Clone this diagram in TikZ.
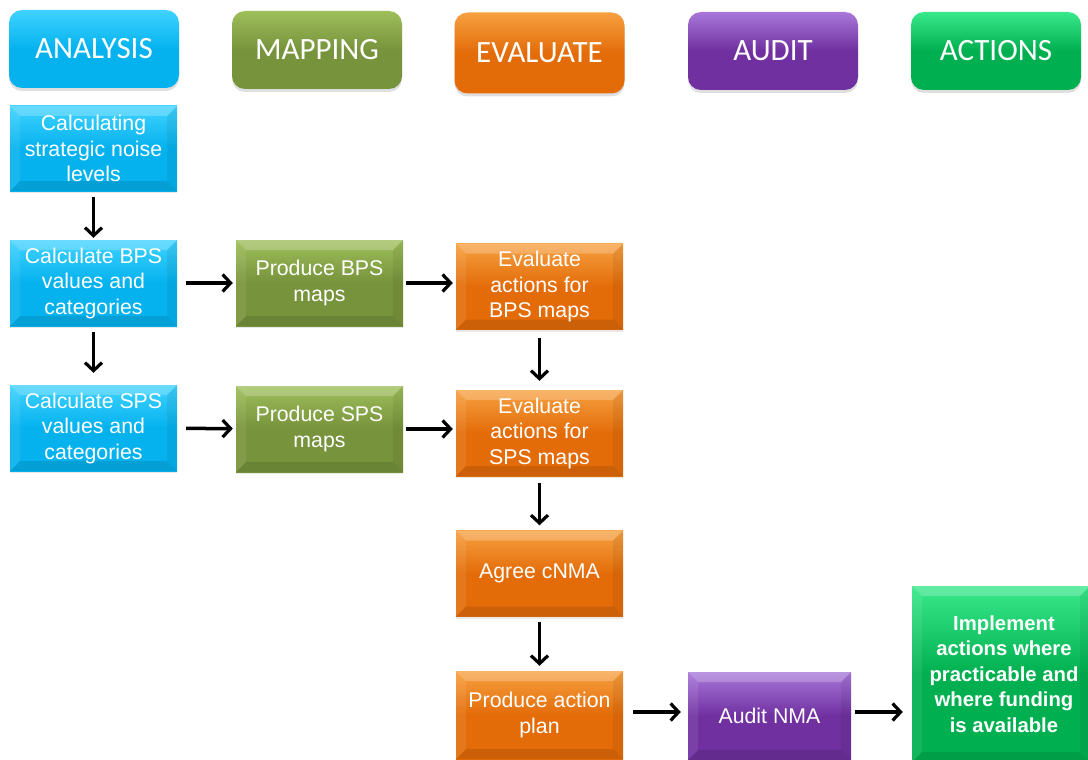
\documentclass[tikz,border=0pt]{standalone}
\usepackage{fontspec}
\setmainfont{Liberation Sans}
\newfontfamily\hfont{Carlito}
\usetikzlibrary{arrows.meta,shadows,calc}
\definecolor{cyanC}{HTML}{05B2EE}
\definecolor{cyanT}{HTML}{3FD2FF}
\definecolor{oliveC}{HTML}{77933C}
\definecolor{oliveT}{HTML}{9EBE5A}
\definecolor{orangeC}{HTML}{E36C09}
\definecolor{orangeT}{HTML}{F7A040}
\definecolor{purpleC}{HTML}{7030A0}
\definecolor{purpleT}{HTML}{A878DA}
\definecolor{greenC}{HTML}{00B050}
\definecolor{greenT}{HTML}{38E88A}
\tikzset{
  bevel/.style={path picture={
    \coordinate (nw) at (path picture bounding box.north west);
    \coordinate (ne) at (path picture bounding box.north east);
    \coordinate (sw) at (path picture bounding box.south west);
    \coordinate (se) at (path picture bounding box.south east);
    \fill[white,opacity=0.22] (nw) -- (ne) -- ([shift={(-10pt,-10pt)}]ne) -- ([shift={(10pt,-10pt)}]nw) -- cycle;
    \fill[white,opacity=0.08] (nw) -- (sw) -- ([shift={(10pt,10pt)}]sw) -- ([shift={(10pt,-10pt)}]nw) -- cycle;
    \fill[black,opacity=0.06] (ne) -- (se) -- ([shift={(-10pt,10pt)}]se) -- ([shift={(-10pt,-10pt)}]ne) -- cycle;
    \fill[black,opacity=0.10] (sw) -- (se) -- ([shift={(-10pt,10pt)}]se) -- ([shift={(10pt,10pt)}]sw) -- cycle;
  }},
  head/.style={rectangle, rounded corners=13pt, minimum width=170pt, minimum height=78pt,
    font=\hfont\fontsize{31}{34}\selectfont, text=white, inner sep=0pt,
    drop shadow={opacity=0.25, shadow xshift=0pt, shadow yshift=-3pt}},
  box/.style={rectangle, minimum width=167pt, minimum height=86pt, align=center,
    font=\fontsize{21.3}{25.5}\selectfont, text=white, inner sep=0pt, bevel,
    drop shadow={opacity=0.18, shadow xshift=0pt, shadow yshift=-2pt}},
  cy/.style={top color=cyanT, bottom color=cyanC, middle color=cyanC},
  ol/.style={top color=oliveT, bottom color=oliveC, middle color=oliveC},
  orr/.style={top color=orangeT, bottom color=orangeC, middle color=orangeC},
  pu/.style={top color=purpleT, bottom color=purpleC, middle color=purpleC},
  gr/.style={top color=greenT, bottom color=greenC, middle color=greenC},
  arr/.style={line width=3.5pt, draw=black, -{Straight Barb[length=8pt,width=17pt,line width=3.2pt]}},
}
\begin{document}
\begin{tikzpicture}[x=1pt,y=-1pt]
\useasboundingbox (0,0) rectangle (1088,760);
% headers
\node[head,cy] (hA) at (94,49) {ANALYSIS};
\node[head,ol] (hM) at (317,50) {MAPPING};
\node[head,orr,minimum height=81pt] (hE) at (539.5,53) {EVALUATE};
\node[head,pu] (hAu) at (773,51) {AUDIT};
\node[head,gr] (hAc) at (996,51) {ACTIONS};
% analysis column
\node[box,cy,minimum height=85pt] (s1) at (93.5,148.5) {Calculating\\strategic noise\\levels};
\node[box,cy] (c1) at (93.5,283) {Calculate BPS\\values and\\categories};
\node[box,cy] (c2) at (93.5,428) {Calculate SPS\\values and\\categories};
% mapping column
\node[box,ol] (p1) at (319.5,283) {Produce BPS\\maps};
\node[box,ol] (p2) at (319.5,429) {Produce SPS\\maps};
% evaluate column
\node[box,orr] (e1) at (539.5,286.5) {Evaluate\\actions for\\BPS maps};
\node[box,orr] (e2) at (539.5,433) {Evaluate\\actions for\\SPS maps};
\node[box,orr] (e3) at (539.5,573.5) {Agree cNMA};
\node[box,orr,minimum height=88pt] (e4) at (539.5,715) {Produce action\\plan};
% audit
\node[box,pu,minimum width=163pt,minimum height=88pt] (au) at (769.5,716) {Audit NMA};
% actions
\node[box,gr,minimum width=178pt,minimum height=176pt,font=\bfseries\fontsize{20.3}{25.5}\selectfont] (ac) at (1001,674) {\hspace*{6pt}Implement\\\hspace*{6pt}actions where\\\hspace*{6pt}practicable and\\\hspace*{6pt}where funding\\\hspace*{6pt}is available};
% arrows
\draw[arr,shorten <=6pt,shorten >=2pt] (s1) -- (c1);
\draw[arr,shorten <=6pt,shorten >=12pt] (c1) -- (c2);
\draw[arr,shorten <=9pt,shorten >=3pt] (c1) -- (p1);
\draw[arr,shorten <=9pt,shorten >=3pt] (c2) -- (p2);
\draw[arr,shorten <=3pt,shorten >=3pt] (p1.east) -- (p1.east -| e1.west);
\draw[arr,shorten <=3pt,shorten >=3pt] (p2.east) -- (p2.east -| e2.west);
\draw[arr,shorten <=8pt,shorten >=9pt] (e1) -- (e2);
\draw[arr,shorten <=7pt,shorten >=5pt] (e2) -- (e3);
\draw[arr,shorten <=5pt,shorten >=5pt] (e3) -- (e4);
\draw[arr,shorten <=10pt,shorten >=7pt] ($(e4.east)+(0,-3)$) -- ($(e4.east -| au.west)+(0,-3)$);
\draw[arr,shorten <=4pt,shorten >=9pt] ($(au.east)+(0,-4)$) -- ($(au.east -| ac.west)+(0,-4)$);
\end{tikzpicture}
\end{document}
